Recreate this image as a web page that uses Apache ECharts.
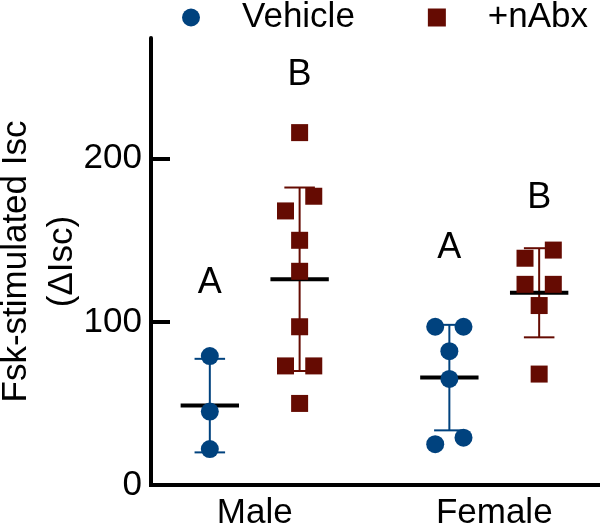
<!DOCTYPE html>
<html>
<head>
<meta charset="utf-8">
<script src="https://cdn.jsdelivr.net/npm/echarts@6/dist/echarts.min.js"></script>
<style>html,body{margin:0;padding:0;background:#fff}#c{width:600px;height:530px}</style>
</head>
<body>
<div id="c"></div>
<script>
// ---- data ----
const groups = ['Male', 'Female'];
const seriesNames = ['Vehicle', '+nAbx'];
const vehicleValues = [
  [79, 45, 22],                    // Male
  [97, 97, 82, 65, 29, 25]         // Female
];
const nabxValues = [
  [216, 177, 168, 150, 131, 97, 73, 73, 50],  // Male
  [144, 139, 123, 123, 110, 68]               // Female
];
const vehicleLetters = ['A', 'A'];
const nabxLetters = ['B', 'B'];
const vehicleLetterLevel = [124, 145];
const nabxLetterLevel = [251, 176];
const yTicks = [0, 100, 200];

// ---- layout helpers ----
const FONT = 'Liberation Sans, Arial, sans-serif';
const BLUE = '#00427e';
const RED = '#650b02';
const groupCenters = [2.31, 7.645];
const seriesOffset = [-1, 1];
const ROW_TOL = 11;      // values closer than this share a row in the dot plot
const SPREAD = 0.63;     // horizontal spacing between dots in a row

function mean(a) { return a.reduce((s, v) => s + v, 0) / a.length; }
function sd(a) { const m = mean(a); return Math.sqrt(a.reduce((s, v) => s + (v - m) * (v - m), 0) / (a.length - 1)); }

function swarm(values, cx) {
  const sorted = values.slice().sort((a, b) => b - a);
  const rows = [];
  let cur = [];
  sorted.forEach(v => {
    if (cur.length && cur[0] - v < ROW_TOL) cur.push(v);
    else { if (cur.length) rows.push(cur); cur = [v]; }
  });
  if (cur.length) rows.push(cur);
  const pts = [];
  rows.forEach(r => {
    const asc = r.slice().sort((a, b) => a - b);
    const n = asc.length;
    asc.forEach((v, i) => pts.push([cx + (i - (n - 1) / 2) * SPREAD, v]));
  });
  return pts;
}

const allSets = [vehicleValues, nabxValues];
const pointData = allSets.map((set, s) =>
  [].concat(...set.map((vals, g) => swarm(vals, groupCenters[g] + seriesOffset[s]))));

const statData = [];
allSets.forEach((set, s) => set.forEach((vals, g) => {
  const m = mean(vals), d = sd(vals);
  statData.push([groupCenters[g] + seriesOffset[s], m, m - d, m + d, s]);
}));

const letterData = [];
[[vehicleLetters, vehicleLetterLevel], [nabxLetters, nabxLetterLevel]].forEach(([L, lv], s) =>
  L.forEach((t, g) => letterData.push({ value: [groupCenters[g] + seriesOffset[s], lv[g]], name: t })));

const colors = [BLUE, RED];
const CAP = 0.34, MEANW = 0.65;

const option = {
  animation: false,
  backgroundColor: '#fff',
  textStyle: { fontFamily: FONT },
  legend: {
    left: 182, top: 0, padding: 0,
    itemWidth: 18, itemHeight: 18, itemGap: 73,
    textStyle: { fontSize: 35, color: '#000', fontFamily: FONT, padding: [0, 0, 0, 37] },
    data: [{ name: seriesNames[0], icon: 'circle' }, { name: seriesNames[1], icon: 'rect' }]
  },
  grid: { left: 151, right: 0, top: 38, bottom: 45, containLabel: false, outerBoundsMode: 'none' },
  xAxis: {
    type: 'value', min: 0, max: 10,
    splitLine: { show: false },
    axisLine: { show: true, lineStyle: { color: '#000', width: 4, cap: 'square' } },
    axisTick: { show: false },
    axisLabel: {
      customValues: groupCenters,
      formatter: v => groups[groupCenters.indexOf(v)] || '',
      fontSize: 35, color: '#000', margin: 11, fontFamily: FONT
    }
  },
  yAxis: {
    type: 'value', min: 0, max: 274,
    name: 'Fsk-stimulated Isc\n(\u0394Isc)',
    nameLocation: 'middle', nameGap: 66, nameMoveOverlap: false,
    nameTextStyle: { fontSize: 35, color: '#000', lineHeight: 46, fontFamily: FONT },
    splitLine: { show: false },
    axisLine: { show: true, lineStyle: { color: '#000', width: 4 } },
    axisTick: { show: true, inside: true, length: 19, customValues: yTicks, lineStyle: { color: '#000', width: 4 } },
    axisLabel: { customValues: yTicks, fontSize: 35, color: '#000', margin: 9, fontFamily: FONT }
  },
  series: [
    {
      type: 'custom', name: 'stats', z: 1,
      data: statData,
      renderItem: (params, api) => {
        const x = api.value(0), m = api.value(1), lo = api.value(2), hi = api.value(3);
        const c = colors[api.value(4)];
        const p = (a, b) => api.coord([a, b]);
        const ls = { stroke: c, lineWidth: 2 };
        const line = (a, b, style) => ({ type: 'line', shape: { x1: a[0], y1: a[1], x2: b[0], y2: b[1] }, style });
        return {
          type: 'group',
          children: [
            line(p(x, lo), p(x, hi), ls),
            line(p(x - CAP, hi), p(x + CAP, hi), ls),
            line(p(x - CAP, lo), p(x + CAP, lo), ls),
            line(p(x - MEANW, m), p(x + MEANW, m), { stroke: '#000', lineWidth: 4 })
          ]
        };
      }
    },
    {
      type: 'scatter', name: seriesNames[0], z: 3,
      symbol: 'circle', symbolSize: 18,
      itemStyle: { color: BLUE, opacity: 1 },
      data: pointData[0]
    },
    {
      type: 'scatter', name: seriesNames[1], z: 3,
      symbol: 'rect', symbolSize: 17,
      itemStyle: { color: RED, opacity: 1 },
      data: pointData[1]
    },
    {
      type: 'custom', name: 'letters', z: 4, silent: true,
      data: letterData,
      renderItem: (params, api) => {
        const pt = api.coord([api.value(0), api.value(1)]);
        return {
          type: 'text', x: pt[0], y: pt[1],
          style: {
            text: letterData[params.dataIndex].name,
            fill: '#000', fontSize: 36, fontFamily: FONT,
            align: 'center', verticalAlign: 'middle'
          }
        };
      }
    }
  ]
};

const chart = echarts.init(document.getElementById('c'), null, { renderer: 'canvas' });
chart.setOption(option);
</script>
</body>
</html>
